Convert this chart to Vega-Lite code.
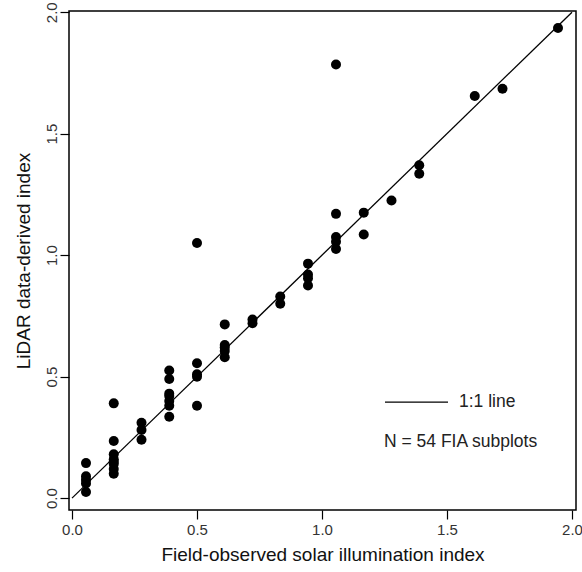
{
  "$schema": "https://vega.github.io/schema/vega-lite/v6.json",
  "width": 507,
  "height": 499,
  "autosize": "none",
  "padding": {"left": 69, "top": 11, "right": 6, "bottom": 62},
  "background": "white",
  "config": {
    "view": {"stroke": "black", "strokeWidth": 1.5},
    "font": "Liberation Sans",
    "axis": {
      "grid": false,
      "domain": false,
      "ticks": true,
      "tickColor": "black",
      "tickWidth": 1.2,
      "tickSize": 9,
      "labelFont": "Liberation Sans",
      "labelFontSize": 15,
      "labelColor": "#333333",
      "titleFont": "Liberation Sans",
      "titleFontSize": 19,
      "titleFontWeight": "normal",
      "titleColor": "#111111"
    }
  },
  "datasets": {
    "pts": [
      {"field": 0.056, "lidar": 0.144},
      {"field": 0.056, "lidar": 0.09},
      {"field": 0.056, "lidar": 0.075},
      {"field": 0.056, "lidar": 0.06},
      {"field": 0.056, "lidar": 0.025},
      {"field": 0.167, "lidar": 0.39},
      {"field": 0.167, "lidar": 0.235},
      {"field": 0.167, "lidar": 0.18},
      {"field": 0.167, "lidar": 0.16},
      {"field": 0.167, "lidar": 0.15},
      {"field": 0.167, "lidar": 0.14},
      {"field": 0.167, "lidar": 0.12},
      {"field": 0.167, "lidar": 0.1},
      {"field": 0.278, "lidar": 0.31},
      {"field": 0.278, "lidar": 0.28},
      {"field": 0.278, "lidar": 0.24},
      {"field": 0.389, "lidar": 0.525},
      {"field": 0.389, "lidar": 0.49},
      {"field": 0.389, "lidar": 0.43},
      {"field": 0.389, "lidar": 0.42},
      {"field": 0.389, "lidar": 0.4},
      {"field": 0.389, "lidar": 0.38},
      {"field": 0.389, "lidar": 0.335},
      {"field": 0.5, "lidar": 1.05},
      {"field": 0.5, "lidar": 0.555},
      {"field": 0.5, "lidar": 0.51},
      {"field": 0.5, "lidar": 0.5},
      {"field": 0.5, "lidar": 0.38},
      {"field": 0.611, "lidar": 0.715},
      {"field": 0.611, "lidar": 0.63},
      {"field": 0.611, "lidar": 0.62},
      {"field": 0.611, "lidar": 0.605},
      {"field": 0.611, "lidar": 0.58},
      {"field": 0.722, "lidar": 0.735},
      {"field": 0.722, "lidar": 0.72},
      {"field": 0.833, "lidar": 0.83},
      {"field": 0.833, "lidar": 0.8},
      {"field": 0.944, "lidar": 0.965},
      {"field": 0.944, "lidar": 0.92},
      {"field": 0.944, "lidar": 0.905},
      {"field": 0.944, "lidar": 0.875},
      {"field": 1.056, "lidar": 1.785},
      {"field": 1.056, "lidar": 1.17},
      {"field": 1.056, "lidar": 1.075},
      {"field": 1.056, "lidar": 1.055},
      {"field": 1.056, "lidar": 1.025},
      {"field": 1.167, "lidar": 1.175},
      {"field": 1.167, "lidar": 1.085},
      {"field": 1.278, "lidar": 1.225},
      {"field": 1.389, "lidar": 1.37},
      {"field": 1.389, "lidar": 1.335},
      {"field": 1.611, "lidar": 1.655},
      {"field": 1.722, "lidar": 1.685},
      {"field": 1.944, "lidar": 1.935}
    ],
    "oneone": [
      {"field": 0, "lidar": 0},
      {"field": 2, "lidar": 2}
    ]
  },
  "layer": [
    {
      "data": {"name": "oneone"},
      "mark": {"type": "line", "color": "black", "strokeWidth": 1.3},
      "encoding": {
        "x": {
          "field": "field", "type": "quantitative",
          "scale": {"domain": [-0.012, 2.016], "nice": false, "zero": false},
          "axis": {
            "values": [0, 0.5, 1, 1.5, 2], "format": ".1f",
            "title": "Field-observed solar illumination index",
            "labelPadding": 3, "titlePadding": 8
          }
        },
        "y": {
          "field": "lidar", "type": "quantitative",
          "scale": {"domain": [-0.049, 2.005], "nice": false, "zero": false},
          "axis": {
            "values": [0, 0.5, 1, 1.5, 2], "format": ".1f",
            "title": "LiDAR data-derived index",
            "labelAngle": 270, "labelAlign": "center", "labelBaseline": "bottom",
            "labelPadding": 1, "titlePadding": 11
          }
        }
      }
    },
    {
      "data": {"name": "pts"},
      "mark": {"type": "circle", "color": "black", "opacity": 1, "size": 100},
      "encoding": {
        "x": {"field": "field", "type": "quantitative"},
        "y": {"field": "lidar", "type": "quantitative"}
      }
    },
    {
      "data": {"values": [{}]},
      "mark": {"type": "rule", "color": "black", "strokeWidth": 1.3},
      "encoding": {
        "x": {"datum": 1.252},
        "x2": {"datum": 1.504},
        "y": {"datum": 0.395}
      }
    },
    {
      "data": {"values": [{}]},
      "mark": {"type": "text", "align": "left", "baseline": "middle", "fontSize": 17.5, "font": "Liberation Sans", "color": "#222222"},
      "encoding": {
        "x": {"datum": 1.548},
        "y": {"datum": 0.395},
        "text": {"value": "1:1 line"}
      }
    },
    {
      "data": {"values": [{}]},
      "mark": {"type": "text", "align": "left", "baseline": "middle", "fontSize": 17.5, "font": "Liberation Sans", "color": "#222222"},
      "encoding": {
        "x": {"datum": 1.248},
        "y": {"datum": 0.23},
        "text": {"value": "N = 54 FIA subplots"}
      }
    }
  ]
}
